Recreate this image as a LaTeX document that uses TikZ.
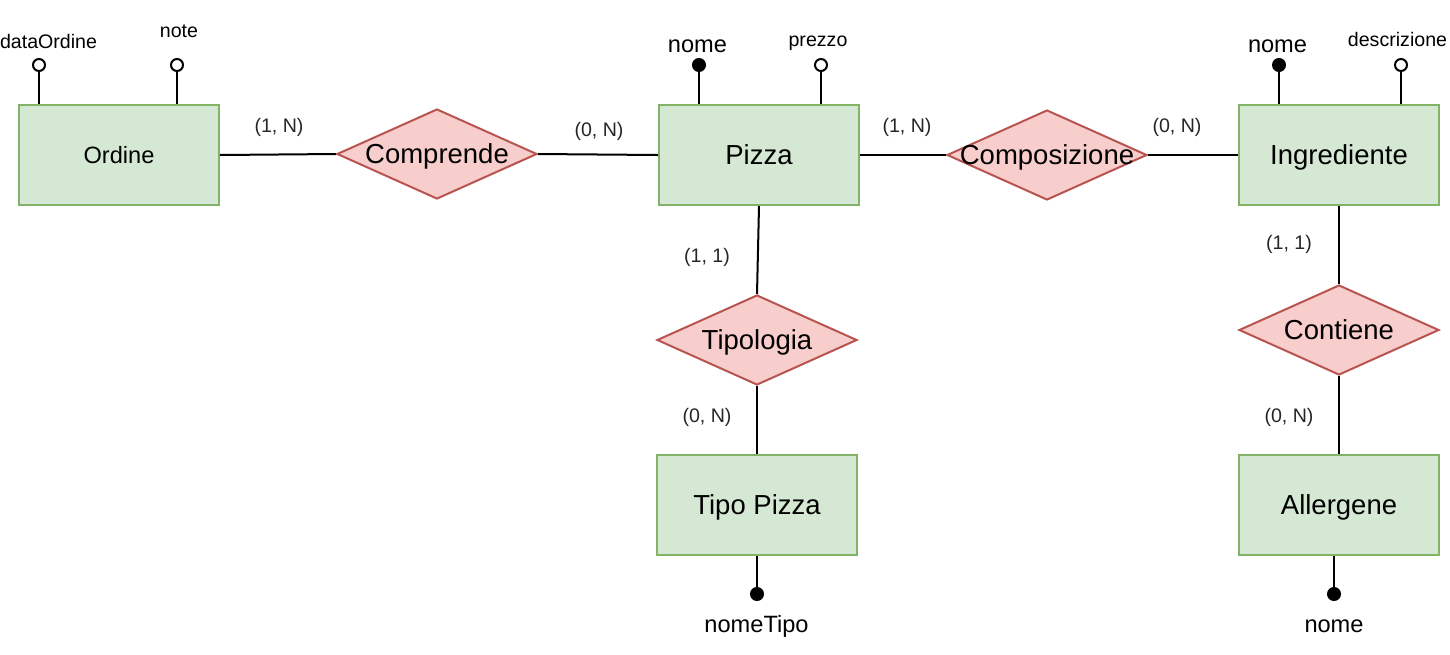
\documentclass[tikz,border=0pt]{standalone}
\usepackage{fontspec}
\setmainfont{Liberation Sans}
\usetikzlibrary{shapes.geometric}
\definecolor{entfill}{HTML}{D5E8D4}
\definecolor{entline}{HTML}{82B366}
\definecolor{relfill}{HTML}{F8CECC}
\definecolor{relline}{HTML}{B85450}
\newcommand{\fbig}{\fontsize{13.75pt}{16pt}\selectfont}
\newcommand{\fmid}{\fontsize{11.8pt}{14pt}\selectfont}
\newcommand{\fsmall}{\fontsize{9.8pt}{12pt}\selectfont}

\begin{document}
\begin{tikzpicture}[x=0.5pt, y=-0.5pt, line width=1pt,
    entity/.style={draw=entline, fill=entfill, minimum width=100pt, minimum height=50pt, inner sep=0pt,
      font=\fbig, text depth=0pt},
    relation/.style={diamond, draw=relline, fill=relfill, minimum width=100pt, minimum height=45pt, inner sep=0pt,
      label={[font=\fbig, inner sep=0pt, text depth=0pt]center:#1}},
    keyattr/.style={circle, draw, fill=black, minimum size=6pt, inner sep=0pt},
    optattr/.style={circle, draw, fill=white, minimum size=6pt, inner sep=0pt},
    card/.style={anchor=base, inner sep=0pt, font=\fsmall, text=black!85},
    attrname/.style={anchor=base, inner sep=0pt, font=#1}]

  \useasboundingbox (0,0) rectangle (1450,654);

  % entita
  \node[entity, font=\fmid] (ordine) at (119,155) {Ordine};
  \node[entity] (pizza) at (759,155) {Pizza};
  \node[entity] (ingrediente) at (1339,155) {Ingrediente};
  \node[entity] (tipopizza) at (757,505) {Tipo Pizza};
  \node[entity] (allergene) at (1339,505) {Allergene};

  % relazioni
  \node[relation=Comprende] (comprende) at (437,154) {};
  \node[relation=Composizione] (composizione) at (1047,155) {};
  \node[relation=Tipologia] (tipologia) at (757,340) {};
  \node[relation=Contiene] (contiene) at (1339,330) {};

  \draw (ordine.east) -- (comprende.west);
  \draw (comprende.east) -- (pizza.west);
  \draw (pizza.east) -- (composizione.west);
  \draw (composizione.east) -- (ingrediente.west);
  \draw (pizza.south) -- (tipologia.north);
  \draw (tipologia.south) -- (tipopizza.north);
  \draw (ingrediente.south) -- (contiene.north);
  \draw (contiene.south) -- (allergene.north);

  % cardinalita
  \node[card] (c1) at (279,132) {(1, N)};
  \node[card] (c2) at (599,136) {(0, N)};
  \node[card] (c3) at (907,132) {(1, N)};
  \node[card] (c4) at (1177,132) {(0, N)};
  \node[card] (c5) at (707,262) {(1, 1)};
  \node[card] (c6) at (707,422) {(0, N)};
  \node[card] (c7) at (1289,249) {(1, 1)};
  \node[card] (c8) at (1289,422) {(0, N)};

  % attributi
  \node[optattr] (odata) at (39,65) {};
  \node[optattr] (onote) at (177,65) {};
  \node[keyattr] (pnome) at (699,65) {};
  \node[optattr] (pprezzo) at (821,65) {};
  \node[keyattr] (inome) at (1279,65) {};
  \node[optattr] (idescr) at (1401,65) {};
  \node[keyattr] (tnome) at (757,594) {};
  \node[keyattr] (anome) at (1334,594) {};

  \draw (odata) -- (odata |- ordine.north);
  \draw (onote) -- (onote |- ordine.north);
  \draw (pnome) -- (pnome |- pizza.north);
  \draw (pprezzo) -- (pprezzo |- pizza.north);
  \draw (inome) -- (inome |- ingrediente.north);
  \draw (idescr) -- (idescr |- ingrediente.north);
  \draw (tnome) -- (tnome |- tipopizza.south);
  \draw (anome) -- (anome |- allergene.south);

  \node[attrname=\fsmall] (odatat) at (48.5,48) {dataOrdine};
  \node[attrname=\fsmall] (onotet) at (179,37) {note};
  \node[attrname=\fmid] (pnomet) at (697.5,52) {nome};
  \node[attrname=\fsmall] (pprezzot) at (818,46) {prezzo};
  \node[attrname=\fmid] (inomet) at (1277.5,52) {nome};
  \node[attrname=\fsmall] (idescrt) at (1397.5,46) {descrizione};
  \node[attrname=\fmid] (tnomet) at (756.5,632) {nomeTipo};
  \node[attrname=\fmid] (anomet) at (1334,632) {nome};
\end{tikzpicture}
\end{document}
